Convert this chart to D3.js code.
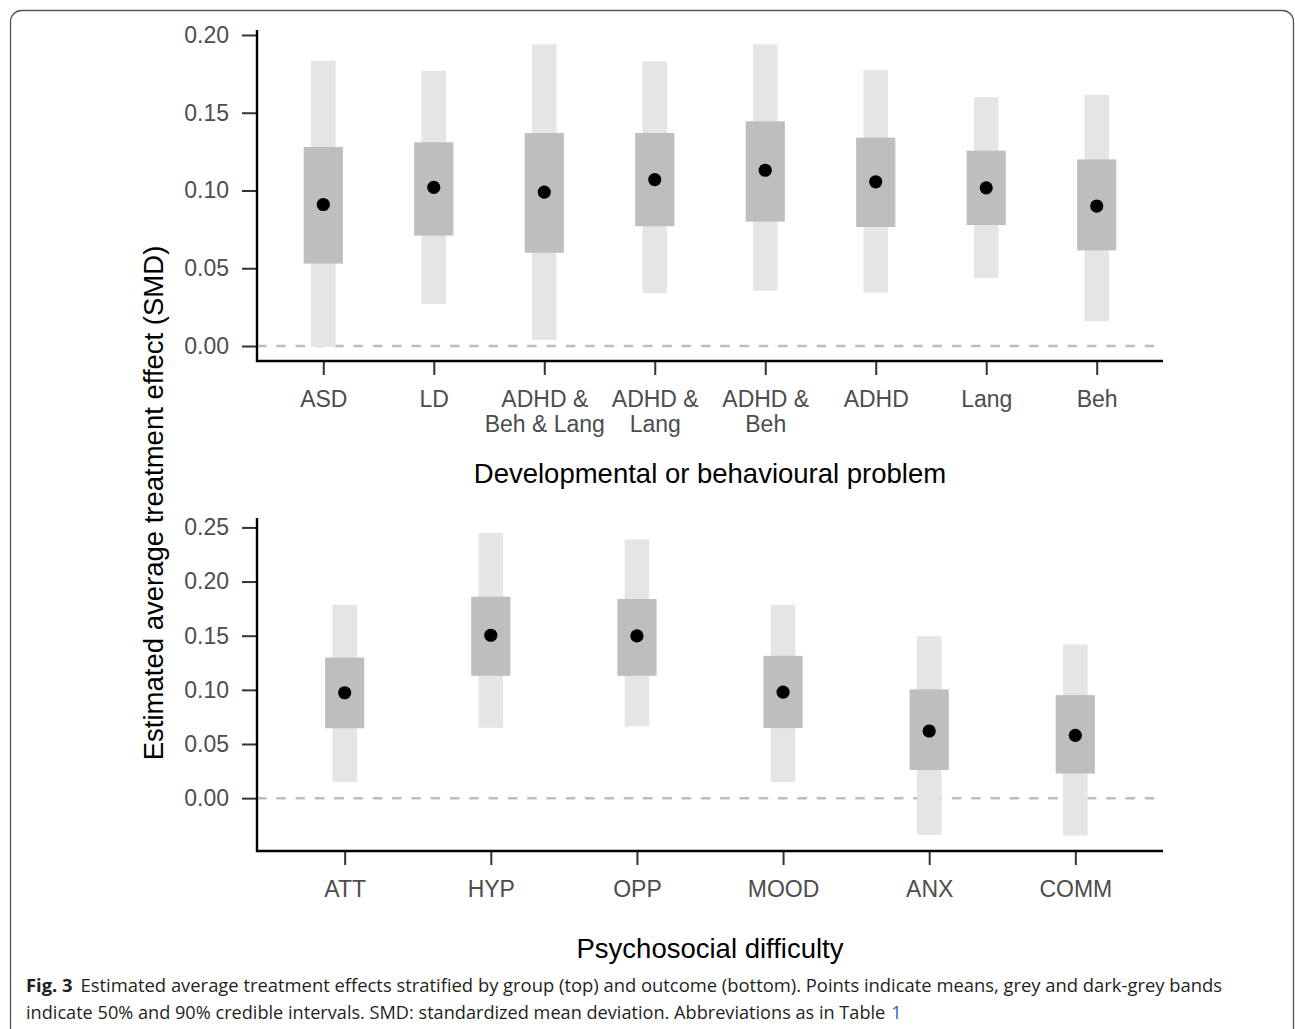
<!DOCTYPE html>
<meta charset="utf-8">
<title>Fig. 3</title>
<script src="https://d3js.org/d3.v7.min.js"></script>
<style>
  body { margin: 0; background: #fff; }
  svg text { font-family: "Liberation Sans", Arial, sans-serif; }
  .tick text { fill: #4d4d4d; font-size: 23px; }
  .tick line { stroke: #333; stroke-width: 2; }
  .caption text { font-family: "Open Sans", "Noto Sans", sans-serif; }
</style>
<body>
<svg width="1295" height="1029"></svg>
<script>
// top panel: developmental or behavioural problem
var topCats = ["ASD", "LD", "ADHD &\nBeh & Lang", "ADHD &\nLang", "ADHD &\nBeh", "ADHD", "Lang", "Beh"];
var topMean = [0.091, 0.102, 0.099, 0.107, 0.113, 0.1056, 0.1017, 0.090];
var topLo50 = [0.053, 0.071, 0.060, 0.077, 0.080, 0.0765, 0.0778, 0.0615];
var topHi50 = [0.128, 0.131, 0.137, 0.137, 0.1445, 0.134, 0.1256, 0.120];
var topLo90 = [-0.0005, 0.027, 0.004, 0.034, 0.0355, 0.0344, 0.0438, 0.0158];
var topHi90 = [0.1835, 0.177, 0.194, 0.183, 0.194, 0.1776, 0.160, 0.1615];
var topTicks = [0, 0.05, 0.10, 0.15, 0.20];

// bottom panel: psychosocial difficulty
var botCats = ["ATT", "HYP", "OPP", "MOOD", "ANX", "COMM"];
var botMean = [0.0973, 0.1504, 0.1498, 0.0979, 0.062, 0.058];
var botLo50 = [0.0645, 0.113, 0.113, 0.0647, 0.026, 0.0227];
var botHi50 = [0.1298, 0.186, 0.1839, 0.1314, 0.1004, 0.0951];
var botLo90 = [0.015, 0.065, 0.0663, 0.0147, -0.034, -0.0347];
var botHi90 = [0.1786, 0.245, 0.2388, 0.1786, 0.1495, 0.142];
var botTicks = [0, 0.05, 0.10, 0.15, 0.20, 0.25];

var svg = d3.select("svg");

// rounded figure frame (bottom runs off the page)
svg.append("rect")
  .attr("x", 10.5).attr("y", 10.5)
  .attr("width", 1283).attr("height", 1060)
  .attr("rx", 11)
  .attr("fill", "none").attr("stroke", "#555").attr("stroke-width", 1.3);

function panel(cats, mean, lo50, hi50, lo90, hi90, ticks, yDomain, top, bottom, title, titleY) {
  var rows = cats.map(function (c, i) {
    return { cat: c, mean: mean[i], lo50: lo50[i], hi50: hi50[i], lo90: lo90[i], hi90: hi90[i] };
  });
  var left = 257, right = 1163;
  var x = d3.scalePoint().domain(cats).range([left, right]).padding(0.6);
  var y = d3.scaleLinear().domain(yDomain).range([bottom, top]);
  var g = svg.append("g");

  // zero reference line
  g.append("line")
    .attr("x1", left).attr("x2", right)
    .attr("y1", y(0)).attr("y2", y(0))
    .attr("stroke", "#bdbdbd").attr("stroke-width", 2.5)
    .attr("stroke-dasharray", "9.5,9.8");

  // 90% bands
  g.selectAll(".b90").data(rows).enter().append("rect")
    .attr("x", function (d) { return x(d.cat) - 12.3; })
    .attr("width", 24.6)
    .attr("y", function (d) { return y(d.hi90); })
    .attr("height", function (d) { return y(d.lo90) - y(d.hi90); })
    .attr("fill", "#e5e5e5");

  // 50% bands
  g.selectAll(".b50").data(rows).enter().append("rect")
    .attr("x", function (d) { return x(d.cat) - 19.6; })
    .attr("width", 39.2)
    .attr("y", function (d) { return y(d.hi50); })
    .attr("height", function (d) { return y(d.lo50) - y(d.hi50); })
    .attr("fill", "#bebebe");

  g.selectAll(".pt").data(rows).enter().append("circle")
    .attr("cx", function (d) { return x(d.cat); })
    .attr("cy", function (d) { return y(d.mean); })
    .attr("r", 6.6)
    .attr("fill", "#000");

  // axes
  var ya = g.append("g").attr("transform", "translate(" + (left - 1) + ",0)")
    .call(d3.axisLeft(y).tickValues(ticks).tickFormat(d3.format(".2f")).tickSize(14).tickPadding(13));
  ya.select(".domain").remove();

  var xa = g.append("g").attr("transform", "translate(0," + (bottom + 1) + ")")
    .call(d3.axisBottom(x).tickSize(14).tickFormat(""));
  xa.select(".domain").remove();
  xa.selectAll(".tick").each(function (d) {
    var lines = d.split("\n");
    var t = d3.select(this).append("text")
      .attr("text-anchor", "middle")
      .attr("y", 46);
    lines.forEach(function (l, i) {
      t.append("tspan").attr("x", 0).attr("dy", i === 0 ? 0 : 25).text(l);
    });
  });

  g.append("path")
    .attr("d", "M" + left + "," + top + "V" + (bottom + 1) + "H" + right)
    .attr("fill", "none").attr("stroke", "#000").attr("stroke-width", 2.4);

  g.append("text")
    .attr("x", 710).attr("y", titleY)
    .attr("text-anchor", "middle")
    .attr("font-size", 27.5).attr("fill", "#000")
    .text(title);
}

panel(topCats, topMean, topLo50, topHi50, topLo90, topHi90, topTicks,
  [-0.009, 0.2032], 30, 360, "Developmental or behavioural problem", 483);
panel(botCats, botMean, botLo50, botHi50, botLo90, botHi90, botTicks,
  [-0.0479, 0.2587], 518, 850, "Psychosocial difficulty", 958);

// shared y title
svg.append("text")
  .attr("transform", "translate(163,503) rotate(-90)")
  .attr("text-anchor", "middle")
  .attr("font-size", 27.5).attr("fill", "#000")
  .text("Estimated average treatment effect (SMD)");

// caption
var cap = svg.append("g").attr("class", "caption").attr("font-size", 18.5).attr("fill", "#231f20");
var l1 = cap.append("text").attr("x", 26).attr("y", 992)
  .attr("textLength", 1196).attr("lengthAdjust", "spacingAndGlyphs");
l1.append("tspan").attr("font-weight", "bold").text("Fig. 3");
l1.append("tspan").attr("dx", 8).text("Estimated average treatment effects stratified by group (top) and outcome (bottom). Points indicate means, grey and dark-grey bands");

// second line: shrink the font so it ends near x=886, then put the link after it
var l2 = cap.append("text").attr("x", 26).attr("y", 1019)
  .text("indicate 50% and 90% credible intervals. SMD: standardized mean deviation. Abbreviations as in Table");
var w = l2.node().getComputedTextLength();
var fs = 18.5 * Math.min(1, 860 / w);
l2.attr("font-size", fs);
w = l2.node().getComputedTextLength();
cap.append("text").attr("x", 26 + w + 6).attr("y", 1019)
  .attr("font-size", fs)
  .attr("fill", "#2b5fce").text("1");
</script>
</body>
